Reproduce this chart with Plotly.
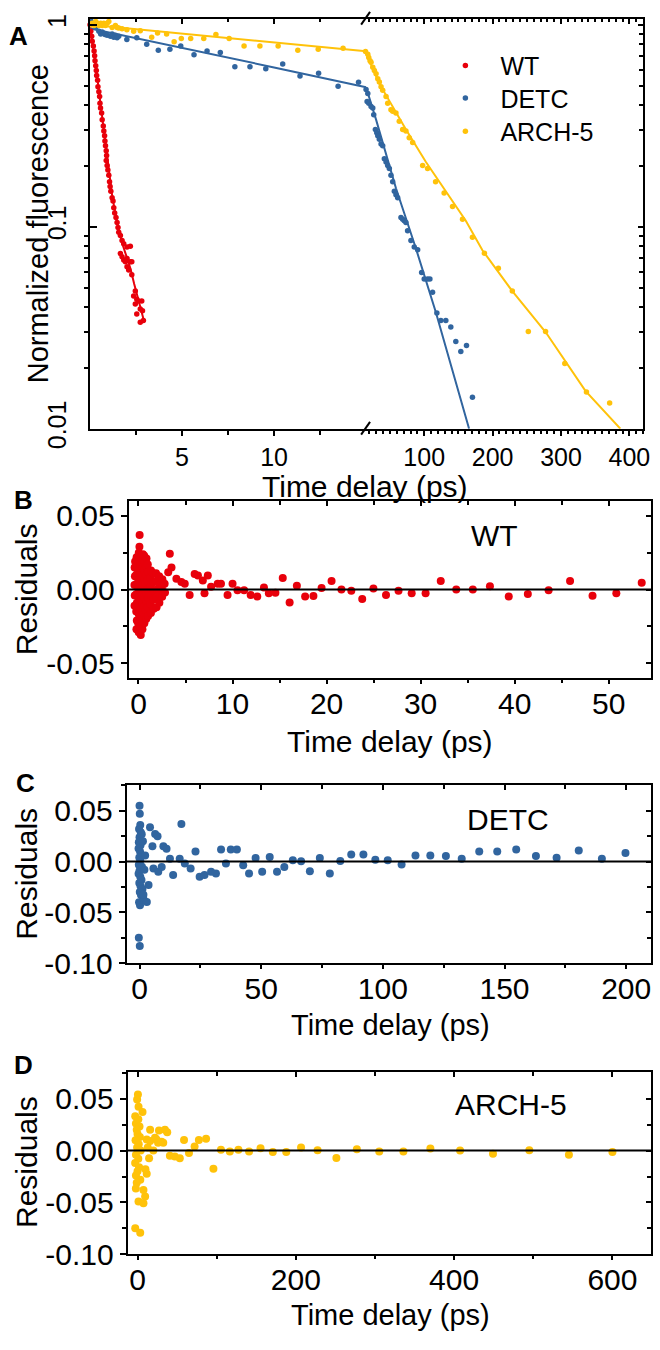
import plotly.graph_objects as go

# ------------------------------------------------------------------ data
# Panel A: normalized fluorescence decays, (time ps, normalized value)
wt_points = [(0.00, 1.00), (0.04, 0.928), (0.09, 0.877), (0.12, 0.830), (0.18, 0.785), (0.22, 0.742),
             (0.25, 0.702), (0.27, 0.664), (0.31, 0.627), (0.34, 0.593), (0.36, 0.561), (0.41, 0.531),
             (0.43, 0.493), (0.48, 0.466), (0.52, 0.441), (0.54, 0.409), (0.57, 0.387), (0.63, 0.366),
             (0.66, 0.339), (0.72, 0.315), (0.75, 0.298), (0.79, 0.282), (0.81, 0.266), (0.84, 0.252),
             (0.88, 0.238), (0.90, 0.225), (0.88, 0.213), (0.93, 0.201), (0.97, 0.191), (1.02, 0.180),
             (1.06, 0.167), (1.09, 0.158), (1.13, 0.150), (1.20, 0.139), (1.25, 0.134), (1.29, 0.124),
             (1.34, 0.117), (1.41, 0.111), (1.47, 0.105), (1.52, 0.0992), (1.56, 0.0938), (1.65, 0.0904),
             (1.74, 0.0855), (1.83, 0.0824), (2.01, 0.0793), (2.19, 0.080), (1.65, 0.0737), (1.74, 0.071),
             (1.83, 0.0684), (1.92, 0.0671), (2.01, 0.0697), (2.19, 0.0671), (2.27, 0.0671), (2.01, 0.0634),
             (2.10, 0.0611), (2.27, 0.0578), (2.46, 0.048), (2.37, 0.0454), (2.54, 0.0437), (2.46, 0.0414),
             (2.63, 0.0429), (2.81, 0.0429), (2.73, 0.0391), (2.54, 0.037), (2.85, 0.0384), (2.73, 0.0337),
             (2.90, 0.0343)]

detc_points = [(0.04, 1.046), (0.22, 1.019), (0.31, 0.970), (0.48, 0.928), (0.58, 0.901), (0.66, 0.922),
               (0.81, 0.894), (0.93, 0.887), (1.11, 0.877), (1.20, 0.901), (1.29, 0.868), (1.38, 0.887),
               (1.47, 0.862), (1.56, 0.877), (2.00, 0.846), (2.54, 0.862), (3.08, 0.800), (3.71, 0.748),
               (4.34, 0.756), (4.93, 0.785), (5.65, 0.710), (6.36, 0.742), (7.08, 0.729), (7.87, 0.620),
               (8.69, 0.620), (9.55, 0.605), (10.47, 0.639), (11.41, 0.557), (12.42, 0.576), (13.48, 0.496),
               (14.59, 0.519), (15.0, 0.478), (16.5, 0.417), (17.5, 0.457), (18.9, 0.409), (22.3, 0.394),
               (24.8, 0.387), (26.2, 0.359), (28.6, 0.303), (30.6, 0.292), (32.1, 0.282), (34.4, 0.271),
               (36.9, 0.257), (39.3, 0.252), (41.7, 0.217), (44.2, 0.209), (46.6, 0.201), (49.0, 0.194),
               (51.4, 0.180), (53.9, 0.167), (56.3, 0.150), (58.7, 0.144), (61.2, 0.139), (66.0, 0.111),
               (68.5, 0.109), (70.8, 0.107), (73.3, 0.105), (75.7, 0.0956), (80.6, 0.0855), (85.4, 0.0793),
               (90.4, 0.077), (96.2, 0.0593), (100.0, 0.0551), (104.9, 0.0551), (108.3, 0.0551),
               (112.2, 0.0474), (118.5, 0.0374), (124.3, 0.0343), (131.6, 0.0343), (138.9, 0.0319),
               (146.2, 0.0270), (153.5, 0.0241), (161.8, 0.0258), (170.5, 0.0143)]

arch_points = [(0.04, 1.00), (0.12, 1.019), (0.22, 0.992), (0.31, 1.037), (0.39, 1.019), (0.48, 0.992),
               (0.58, 1.019), (0.66, 0.992), (0.75, 1.019), (0.84, 0.992), (0.93, 1.019), (1.02, 1.037),
               (1.20, 0.970), (1.38, 0.992), (1.47, 0.970), (1.56, 0.964), (1.74, 0.956), (2.00, 0.946),
               (2.37, 0.928), (2.73, 0.935), (3.35, 0.868), (3.67, 0.911), (4.16, 0.901), (4.57, 0.824),
               (4.96, 0.855), (5.47, 0.855), (6.18, 0.855), (6.84, 0.894), (7.56, 0.855), (8.37, 0.785),
               (9.23, 0.785), (10.22, 0.785), (11.29, 0.748), (12.40, 0.756), (13.75, 0.765), (14.97, 0.737),
               (17.5, 0.715), (18.9, 0.689), (20.8, 0.663), (22.3, 0.652), (24.8, 0.616), (27.1, 0.593),
               (29.6, 0.572), (32.1, 0.541), (34.4, 0.521), (36.9, 0.493), (39.3, 0.474), (44.2, 0.441),
               (46.6, 0.409), (51.4, 0.380), (53.9, 0.373), (58.7, 0.366), (63.5, 0.333), (68.5, 0.303),
               (73.3, 0.298), (78.1, 0.276), (83.1, 0.261), (97.7, 0.201), (104.9, 0.194), (116.6, 0.167),
               (129.1, 0.147), (141.4, 0.126), (156.0, 0.109), (170.5, 0.0887), (188.0, 0.074),
               (208.4, 0.0623), (228.8, 0.048), (252.2, 0.0303), (277.4, 0.0303), (305.5, 0.021),
               (337.2, 0.0152), (371.1, 0.0134)]

# fitted curves (time ps, value)
wt_fit = [(0, 1.0), (0.1, 0.87), (0.2, 0.76), (0.3, 0.645), (0.4, 0.545), (0.5, 0.455), (0.6, 0.385),
          (0.7, 0.325), (0.8, 0.272), (0.9, 0.228), (1.0, 0.192), (1.1, 0.165), (1.2, 0.143), (1.4, 0.113),
          (1.6, 0.093), (1.8, 0.080), (2.0, 0.070), (2.2, 0.062), (2.4, 0.052), (2.6, 0.044), (2.9, 0.035)]
detc_fit = [(0, 0.96), (5, 0.77), (10, 0.615), (15, 0.49), (29.6, 0.339), (58.7, 0.155), (87.9, 0.078),
            (117.0, 0.0377), (165.6, 0.01)]
arch_fit = [(0, 1.0), (15, 0.739), (19.8, 0.663), (34.4, 0.511), (53.9, 0.394), (73.3, 0.303),
            (102.5, 0.209), (131.6, 0.150), (160.8, 0.107), (185.1, 0.0765), (228.8, 0.048),
            (277.4, 0.0301), (335.7, 0.0154), (386.7, 0.01)]

# Panels B-D: residuals (time ps, residual)
wt_res = [(-0.42, -0.011), (-0.40, -0.004), (-0.43, 0.003), (-0.38, 0.009), (-0.41, 0.015), (-0.36, 0.019),
          (-0.22, -0.027), (-0.18, -0.021), (-0.24, -0.015), (-0.17, -0.009), (-0.21, -0.003), (-0.19, 0.004),
          (-0.23, 0.010), (-0.16, 0.016), (-0.20, 0.022),
          (0.02, -0.029), (-0.03, -0.023), (0.04, -0.017), (-0.01, -0.011), (0.03, -0.005), (0.00, 0.001),
          (0.05, 0.007), (-0.02, 0.013), (0.01, 0.019), (0.03, 0.025), (0.12, 0.037), (0.10, 0.029),
          (0.24, -0.031), (0.18, -0.025), (0.22, -0.019), (0.19, -0.013), (0.25, -0.007), (0.21, -0.001),
          (0.17, 0.005), (0.23, 0.011), (0.20, 0.017), (0.26, 0.023),
          (0.42, -0.027), (0.38, -0.021), (0.44, -0.015), (0.40, -0.009), (0.37, -0.003), (0.43, 0.003),
          (0.39, 0.009), (0.45, 0.015), (0.41, 0.020), (0.47, 0.024),
          (0.62, -0.023), (0.58, -0.017), (0.64, -0.011), (0.60, -0.005), (0.57, 0.001), (0.63, 0.007),
          (0.59, 0.013), (0.66, 0.019), (0.61, 0.023),
          (0.82, -0.020), (0.78, -0.014), (0.84, -0.008), (0.80, -0.002), (0.77, 0.004), (0.83, 0.010),
          (0.79, 0.016), (0.85, 0.021),
          (1.02, -0.018), (0.98, -0.012), (1.04, -0.006), (1.00, 0.000), (0.97, 0.006), (1.03, 0.012), (0.99, 0.017),
          (1.32, -0.016), (1.28, -0.010), (1.34, -0.004), (1.30, 0.002), (1.27, 0.008), (1.33, 0.013),
          (1.62, -0.013), (1.58, -0.007), (1.64, -0.001), (1.60, 0.005), (1.57, 0.011),
          (1.92, -0.012), (1.88, -0.006), (1.94, 0.000), (1.90, 0.006), (1.87, 0.011),
          (2.22, -0.009), (2.18, -0.003), (2.24, 0.003), (2.20, 0.009),
          (2.52, -0.005), (2.48, 0.001), (2.54, 0.007), (2.82, -0.002), (2.78, 0.004),
          (3.16, 0.0117), (3.33, 0.0243), (3.51, 0.015), (4.03, 0.0073), (4.56, 0.0051), (4.92, 0.004),
          (5.44, -0.0038), (5.97, 0.0106), (6.32, 0.0095), (6.84, 0.0062), (7.02, -0.0026), (7.37, 0.0095),
          (7.72, 0.0018), (8.42, 0.004), (8.77, 0.004), (9.47, -0.0038), (10.0, 0.004), (10.53, -0.0005),
          (11.23, -0.0005), (11.93, -0.0038), (12.63, -0.0048), (13.34, 0.0013), (13.86, -0.0026),
          (14.56, -0.0022), (15.34, 0.0079), (16.07, -0.0088), (16.84, 0.0025), (17.72, -0.0048),
          (18.6, -0.0044), (19.47, 0.0011), (20.53, 0.0058), (21.58, 0.0), (22.63, -0.0009),
          (23.79, -0.0064), (24.98, 0.0007), (26.32, -0.0038), (27.65, -0.0009), (29.05, -0.0026),
          (30.53, -0.0026), (32.14, 0.0058), (33.79, 0.0), (35.55, 0.0), (37.37, 0.0022), (39.37, -0.0048),
          (41.4, -0.0031), (43.61, -0.0005), (45.89, 0.0058), (48.28, -0.0042), (50.81, -0.0026),
          (53.51, 0.0046)]

detc_res = [(0.0, 0.055), (0.1, 0.047), (0.3, 0.036), (-0.2, 0.032), (0.5, 0.029), (0.0, 0.024), (-0.3, 0.019),
            (0.4, 0.016), (-0.4, 0.013), (0.2, 0.010), (0.6, 0.007), (-0.1, 0.004), (0.3, 0.001), (-0.3, -0.003),
            (0.5, -0.006), (0.0, -0.009), (-0.4, -0.012), (0.3, -0.015), (0.8, -0.018), (-0.1, -0.021),
            (0.4, -0.024), (1.2, -0.027), (0.1, -0.030), (0.6, -0.033), (1.5, -0.036), (-0.2, -0.040),
            (0.2, -0.043), (-0.3, -0.075), (0.1, -0.083), (0.9, 0.027), (1.0, -0.005), (1.4, 0.020),
            (1.8, -0.038), (2.3, 0.006), (2.0, -0.008), (1.6, -0.0327), (3.0, -0.0398), (3.7, -0.023),
            (4.3, 0.0337), (5.3, 0.0152), (5.7, -0.0068), (6.4, 0.0272), (7.4, 0.025), (7.7, -0.010),
            (9.1, -0.0052), (9.8, 0.0152), (11.1, 0.0126), (12.5, 0.0029), (13.8, -0.0133), (16.5, 0.0029),
            (17.2, 0.0369), (18.6, -0.0019), (21.0, -0.0068), (23.0, 0.0100), (24.7, -0.0149),
            (26.7, -0.0133), (29.4, -0.0100), (31.4, -0.0117), (33.5, 0.0119), (35.5, -0.0019),
            (37.5, 0.0119), (40.0, 0.0119), (42.6, -0.0036), (45.0, -0.0117), (47.7, 0.0036),
            (50.4, -0.0100), (53.5, 0.0046), (56.5, -0.0100), (59.5, -0.0052), (63.0, 0.0013),
            (66.4, 0.0003), (70.0, -0.0094), (74.1, 0.0036), (78.2, -0.0117), (82.5, 0.0007), (87.0, 0.007),
            (92.0, 0.007), (96.9, 0.0019), (102.0, 0.0013), (107.7, -0.0029), (113.4, 0.0061),
            (119.5, 0.0061), (125.9, 0.0055), (132.4, 0.0029), (139.6, 0.0100), (147.0, 0.0100),
            (154.8, 0.0119), (162.9, 0.0055), (171.4, 0.0039), (180.5, 0.0110), (190.0, 0.0029),
            (199.7, 0.0084)]

arch_res = [(0.5, 0.054), (-0.5, 0.049), (1.3, 0.042), (6.3, 0.037), (-2.9, 0.033), (1.0, 0.030), (-2.0, 0.026),
            (2.5, 0.023), (-1.0, 0.020), (0.0, 0.016), (3.0, 0.013), (-2.5, 0.010), (1.5, 0.006), (-0.5, 0.003),
            (4.0, 0.000), (-2.0, -0.004), (1.0, -0.008), (-3.0, -0.012), (2.0, -0.016), (0.0, -0.020),
            (-2.0, -0.024), (3.5, -0.028), (-1.0, -0.031), (-2.1, -0.0365), (1.25, -0.049), (7.5, -0.0507),
            (9.6, -0.0443), (7.5, -0.038), (-2.9, -0.0748), (3.4, -0.079), (11.6, -0.0224), (10.0, -0.018),
            (12.9, 0.0028), (15.9, 0.0201), (14.6, -0.0075), (20.0, 0.0), (15.9, 0.0092), (11.6, 0.0107),
            (22.1, 0.0123), (24.0, 0.0107), (26.0, 0.0075), (27.1, 0.0192), (30.4, 0.0085), (34.6, 0.0201),
            (37.5, 0.0176), (32.5, 0.0075), (40.9, -0.005), (47.1, -0.0057), (53.4, -0.0075), (58.75, 0.0101),
            (65.0, -0.0025), (72.1, 0.0038), (77.5, 0.0101), (86.6, 0.0113), (95.9, -0.0176), (105.4, 0.0007),
            (116.6, -0.0009), (127.5, 0.0007), (140.9, -0.0009), (155.4, 0.0022), (170.9, -0.0013),
            (187.9, -0.0013), (206.6, 0.0028), (227.5, 0.0003), (251.25, -0.0072), (277.1, 0.0013),
            (305.4, -0.0009), (335.9, -0.0009), (370.0, 0.0019), (407.5, 0.0), (449.1, -0.0031),
            (495.0, 0.0003), (545.0, -0.004), (600.0, -0.0013)]

series_names = ["WT", "DETC", "ARCH-5"]
colors = ["#E8000B", "#31659F", "#FFC20A"]

a_y_tickvals = [0.01, 0.1, 1]
a_y_ticktext = ["0.01", "0.1", "1"]
a_left_ticks = [5, 10]
a_right_ticks = [100, 200, 300, 400]
b_x_ticks = [0, 10, 20, 30, 40, 50]
c_x_ticks = [0, 50, 100, 150, 200]
d_x_ticks = [0, 200, 400, 600]
res_ticks_b = [-0.05, 0.0, 0.05]
res_ticks_cd = [-0.10, -0.05, 0.0, 0.05]
BREAK = 15.0

# ------------------------------------------------------------------ layout helpers
W, H = 660, 1350
FONT = "Liberation Sans, Arial, sans-serif"


def fx(p):
    return p / W


def fy(p):
    return 1 - p / H


def xs(pts):
    return [p[0] for p in pts]


def ys(pts):
    return [p[1] for p in pts]


fig = go.Figure()

# ---------------- panel A traces
fits = [wt_fit, detc_fit, arch_fit]
pts = [wt_points, detc_points, arch_points]
legend_ids = ["legend", "legend2", "legend3"]
for f, c in zip(fits, colors):
    left = [p for p in f if p[0] <= BREAK]
    right = [p for p in f if p[0] >= BREAK]
    if len(left) > 1:
        fig.add_trace(go.Scatter(x=xs(left), y=ys(left), mode="lines", line=dict(color=c, width=2),
                                 xaxis="x", yaxis="y", showlegend=False, hoverinfo="skip"))
    if len(right) > 1:
        fig.add_trace(go.Scatter(x=xs(right), y=ys(right), mode="lines", line=dict(color=c, width=2),
                                 xaxis="x2", yaxis="y", showlegend=False, hoverinfo="skip"))
for p_, c, n, lg in zip(pts, colors, series_names, legend_ids):
    left = [p for p in p_ if p[0] < BREAK]
    right = [p for p in p_ if p[0] >= BREAK]
    fig.add_trace(go.Scatter(x=xs(left), y=ys(left), mode="markers", name=n, legend=lg,
                             marker=dict(color=c, size=5.5), xaxis="x", yaxis="y", cliponaxis=False))
    if right:
        fig.add_trace(go.Scatter(x=xs(right), y=ys(right), mode="markers", name=n, showlegend=False,
                                 marker=dict(color=c, size=5.5), xaxis="x2", yaxis="y", cliponaxis=False))

# ---------------- residual traces
for res, c, xa, ya in [(wt_res, colors[0], "x5", "y3"), (detc_res, colors[1], "x7", "y5"),
                       (arch_res, colors[2], "x9", "y7")]:
    fig.add_trace(go.Scatter(x=xs(res), y=ys(res), mode="markers", marker=dict(color=c, size=8),
                             xaxis=xa, yaxis=ya, showlegend=False, cliponaxis=False))

# dummy traces for mirrored (inside-tick) axes
for xa, ya in [("x3", "y"), ("x4", "y"), ("x2", "y2"), ("x6", "y3"), ("x5", "y4"),
               ("x8", "y5"), ("x7", "y6"), ("x10", "y7"), ("x9", "y8")]:
    fig.add_trace(go.Scatter(x=[None], y=[None], xaxis=xa, yaxis=ya, showlegend=False, hoverinfo="skip"))

# ------------------------------------------------------------------ axes
base = dict(showline=True, linecolor="black", linewidth=2, showgrid=False, zeroline=False,
            tickcolor="black", tickwidth=2, ticklen=5)


def ax(**kw):
    d = dict(base)
    d.update(kw)
    return d


minor_log = [k * 10 ** e for e in (-2, -1) for k in range(2, 10)]

A_dom_y = [fy(432), fy(14)]
A_left_dom = [fx(91), fx(370)]
A_right_dom = [fx(370), fx(650)]
A_yrange = [-2, 0.03]
tickfA = dict(size=25, color="black", family=FONT)
tickfR = dict(size=30, color="black", family=FONT)

layout_axes = dict(
    xaxis=ax(domain=A_left_dom, anchor="y", range=[0, BREAK], tickmode="array", tickvals=a_left_ticks,
             ticks="outside", tickfont=tickfA,
             minor=dict(tickvals=[2.5, 7.5, 12.5], ticks="outside", ticklen=4, tickcolor="black", tickwidth=1.5)),
    xaxis2=ax(domain=A_right_dom, anchor="y", range=[BREAK, 420], tickmode="array", tickvals=a_right_ticks,
              ticks="outside", tickfont=tickfA,
              minor=dict(tick0=0, dtick=10, ticks="outside", ticklen=3, tickcolor="black", tickwidth=1.5)),
    xaxis3=ax(overlaying="x", side="top", anchor="y", range=[0, BREAK], tickmode="array", tickvals=a_left_ticks,
              ticks="inside", showticklabels=False,
              minor=dict(tickvals=[2.5, 7.5, 12.5], ticks="inside", ticklen=3, tickcolor="black", tickwidth=1.5)),
    xaxis4=ax(overlaying="x2", side="top", anchor="y", range=[BREAK, 420], tickmode="array",
              tickvals=a_right_ticks, ticks="inside", showticklabels=False,
              minor=dict(tick0=0, dtick=10, ticks="inside", ticklen=3, tickcolor="black", tickwidth=1.5)),
    yaxis=ax(domain=A_dom_y, anchor="x", type="log", range=A_yrange, tickmode="array", tickvals=a_y_tickvals,
             ticktext=a_y_ticktext, tickangle=-90, ticks="inside", ticklen=7, tickfont=tickfA,
             ticklabelstandoff=12,
             minor=dict(tickvals=minor_log, ticks="outside", ticklen=4, tickcolor="black", tickwidth=1.5)),
    yaxis2=ax(overlaying="y", side="right", anchor="x2", type="log", range=A_yrange, tickmode="array",
              tickvals=a_y_tickvals, ticks="inside", showticklabels=False,
              minor=dict(tickvals=minor_log, ticks="inside", ticklen=4, tickcolor="black", tickwidth=1.5)),
)


def res_axes(xname, yname, xtop, yright, xdom, ydom, xr, yr, xt, xminor, yt):
    ytext = ["%.2f" % v for v in yt]
    yminor = [v + 0.025 for v in yt]
    yminor = [v for v in yminor if yr[0] < v < yr[1] and all(abs(v - t) > 1e-6 for t in yt)]
    xn, yn = xname.replace("x", "xaxis"), yname.replace("y", "yaxis")
    xtn, yrn = xtop.replace("x", "xaxis"), yright.replace("y", "yaxis")
    return {
        xn: ax(domain=xdom, anchor=yname, range=xr, tickmode="array", tickvals=xt, ticks="outside",
               ticklen=4, tickfont=tickfR, ticklabelstandoff=-6,
               minor=dict(tickvals=xminor, ticks="outside", ticklen=3, tickcolor="black", tickwidth=1.5)),
        yn: ax(domain=ydom, anchor=xname, range=yr, tickmode="array", tickvals=yt, ticktext=ytext,
               ticks="outside", ticklen=6, tickfont=tickfR,
               minor=dict(tickvals=yminor, ticks="outside", ticklen=4, tickcolor="black", tickwidth=1.5)),
        xtn: ax(overlaying=xname, side="top", anchor=yname, range=xr, tickmode="array", tickvals=xt,
                ticks="inside", showticklabels=False,
                minor=dict(tickvals=xminor, ticks="inside", ticklen=4, tickcolor="black", tickwidth=1.5)),
        yrn: ax(overlaying=yname, side="right", anchor=xname, range=yr, tickmode="array", tickvals=yt,
                ticks="inside", showticklabels=False,
                minor=dict(tickvals=yminor, ticks="inside", ticklen=4, tickcolor="black", tickwidth=1.5)),
    }


layout_axes.update(res_axes("x5", "y3", "x6", "y4", [fx(130), fx(658)], [fy(686), fy(506)],
                            [-1.05, 54.5], [-0.06, 0.06], b_x_ticks, [5, 15, 25, 35, 45], res_ticks_b))
layout_axes.update(res_axes("x7", "y5", "x8", "y6", [fx(128), fx(658)], [fy(977), fy(795)],
                            [-5.3, 210.2], [-0.10, 0.0757], c_x_ticks, [25, 75, 125, 175], res_ticks_cd))
layout_axes.update(res_axes("x9", "y7", "x10", "y8", [fx(129), fx(658)], [fy(1274), fy(1088)],
                            [-12.5, 648.75], [-0.10, 0.0755], d_x_ticks, [100, 300, 500], res_ticks_cd))

# ------------------------------------------------------------------ shapes (zero lines, axis breaks)
shapes = []
for xa, ya in [("x5", "y3"), ("x7", "y5"), ("x9", "y7")]:
    shapes.append(dict(type="line", xref=xa + " domain", x0=0, x1=1, yref=ya, y0=0, y1=0,
                       line=dict(color="black", width=2), layer="above"))
for y0, y1 in [(20, 7), (438, 425)]:
    shapes.append(dict(type="line", xref="paper", yref="paper", x0=fx(365), x1=fx(374), y0=fy(y0), y1=fy(y1),
                       line=dict(color="black", width=2), layer="above"))

# ------------------------------------------------------------------ annotations
ann = []


def text(x, y, s, size, bold=False, angle=0):
    ann.append(dict(x=fx(x), y=fy(y), xref="paper", yref="paper", text=("<b>%s</b>" % s) if bold else s,
                    showarrow=False, xanchor="center", yanchor="middle", textangle=angle,
                    font=dict(size=size, color="black", family=FONT)))


text(19, 32, "A", 26, bold=True)
text(24, 505, "B", 26, bold=True)
text(26, 793, "C", 26, bold=True)
text(24, 1081, "D", 26, bold=True)
text(38, 223, "Normalized fluorescence", 29, angle=-90)
text(369, 491, "Time delay (ps)", 30)
for yc in (596, 886, 1180):
    text(27, yc, "Residuals", 30, angle=-90)
text(394, 751, "Time delay (ps)", 30)
text(395, 1040, "Time delay (ps)", 29)
text(395, 1336, "Time delay (ps)", 29)
text(500, 541, "WT", 30)
text(513, 831, "DETC", 30)
text(516, 1121, "ARCH-5", 30)

legend_common = dict(x=fx(435), xanchor="left", yanchor="middle", bgcolor="rgba(0,0,0,0)",
                     font=dict(size=25, family=FONT, color="black"), itemwidth=60)
fig.update_layout(
    width=W, height=H, margin=dict(l=0, r=0, t=0, b=0),
    paper_bgcolor="white", plot_bgcolor="white",
    font=dict(family=FONT, color="black"),
    showlegend=True,
    legend=dict(y=fy(62), **legend_common),
    legend2=dict(y=fy(95), **legend_common),
    legend3=dict(y=fy(129), **legend_common),
    shapes=shapes, annotations=ann,
    **layout_axes,
)

fig.write_html("out.html")
